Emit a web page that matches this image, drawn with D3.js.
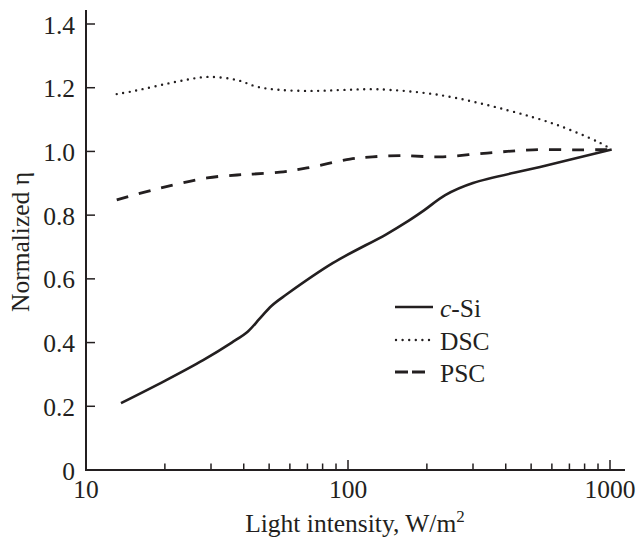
<!DOCTYPE html>
<html><head><meta charset="utf-8">
<script src="https://cdn.jsdelivr.net/npm/d3@7"></script>
<style>
html,body{margin:0;padding:0;background:#fff;}
</style></head>
<body><svg id="c" width="638" height="543"></svg>
<script>
// Data
const cSiX = [13.6, 20, 28, 36, 41.5, 46, 51, 58, 87.7, 140, 170, 195, 235, 300, 541, 1015];
const cSiY = [0.21, 0.28, 0.345, 0.400, 0.435, 0.475, 0.515, 0.550, 0.650, 0.740, 0.782, 0.815, 0.863, 0.901, 0.951, 1.006];
const dscX = [13.1, 14.7, 22.9, 29.2, 37.7, 45, 55, 73.5, 95.7, 130, 224, 404, 628, 916, 1015];
const dscY = [1.18, 1.187, 1.221, 1.234, 1.224, 1.203, 1.193, 1.19, 1.193, 1.195, 1.177, 1.13, 1.083, 1.027, 1.006];
const pscX = [13.1, 19.2, 29, 37.7, 43.4, 55, 69.8, 101.8, 124, 158, 224, 340, 508, 789, 1015];
const pscY = [0.848, 0.885, 0.917, 0.926, 0.929, 0.935, 0.948, 0.976, 0.983, 0.987, 0.983, 0.995, 1.005, 1.005, 1.006];
const seriesNames = ["c-Si", "DSC", "PSC"];
const xMajorTicks = [10, 100, 1000];
const xMinorTicks = [20,30,40,50,60,70,80,90,200,300,400,500,600,700,800,900];
const yTicks = [0, 0.2, 0.4, 0.6, 0.8, 1.0, 1.2, 1.4];
const yTickLabels = ["0", "0.2", "0.4", "0.6", "0.8", "1.0", "1.2", "1.4"];

const ink = "#231f20";
const FF = "Liberation Serif";
const FS = 25.5;
const svg = d3.select("#c");
const x = d3.scaleLog().domain([10, 1000]).range([86, 610]);
const y = d3.scaleLinear().domain([0, 1.4]).range([470, 24]);
const xEnd = 625, yTop = 10;

// axes lines
svg.append("line").attr("x1", x(10)-1).attr("x2", xEnd).attr("y1", y(0)).attr("y2", y(0))
  .attr("stroke", ink).attr("stroke-width", 2);
svg.append("line").attr("x1", x(10)).attr("x2", x(10)).attr("y1", y(0)+1).attr("y2", yTop)
  .attr("stroke", ink).attr("stroke-width", 2);

// x ticks (inward)
svg.selectAll(".xmaj").data(xMajorTicks.filter(d=>d>10)).enter().append("line")
  .attr("x1", d=>x(d)).attr("x2", d=>x(d)).attr("y1", y(0)).attr("y2", y(0)-10)
  .attr("stroke", ink).attr("stroke-width", 1.5);
svg.selectAll(".xmin").data(xMinorTicks).enter().append("line")
  .attr("x1", d=>x(d)).attr("x2", d=>x(d)).attr("y1", y(0)).attr("y2", y(0)-6.5)
  .attr("stroke", ink).attr("stroke-width", 1.5);
svg.selectAll(".xl").data(xMajorTicks).enter().append("text")
  .attr("x", d=>x(d)).attr("y", 498).attr("text-anchor", "middle")
  .attr("font-family", FF).attr("font-size", FS).attr("fill", ink).text(d=>d);

// y ticks
svg.selectAll(".yt").data(yTicks.filter(d=>d>0)).enter().append("line")
  .attr("x1", x(10)).attr("x2", x(10)+9).attr("y1", d=>y(d)).attr("y2", d=>y(d))
  .attr("stroke", ink).attr("stroke-width", 1.5);
svg.selectAll(".yl").data(yTicks).enter().append("text")
  .attr("x", 75).attr("y", d=>y(d)+9.5).attr("text-anchor", "end")
  .attr("font-family", FF).attr("font-size", FS).attr("fill", ink).text((d,i)=>yTickLabels[i]);

// axis titles
svg.append("text").attr("transform", "translate(29,242) rotate(-90)")
  .attr("text-anchor", "middle").attr("font-family", FF).attr("font-size", FS).attr("fill", ink)
  .text("Normalized η");
const xt = svg.append("text").attr("x", 355).attr("y", 532).attr("text-anchor", "middle")
  .attr("font-family", FF).attr("font-size", FS).attr("fill", ink);
xt.append("tspan").text("Light intensity, W/m");
xt.append("tspan").attr("font-size", 17).attr("dy", -10).text("2");

// lines
const line = d3.line().x(d=>x(d[0])).y(d=>y(d[1])).curve(d3.curveCatmullRom.alpha(0.5));
const styles = [
  {dash: null, w: 2.6, cap: "butt"},
  {dash: "0,6.6", w: 2.4, cap: "round"},
  {dash: "12,11", w: 2.8, cap: "butt"}
];
const data = [d3.zip(cSiX, cSiY), d3.zip(dscX, dscY), d3.zip(pscX, pscY)];
data.forEach((d,i)=>{
  svg.append("path").attr("d", line(d)).attr("fill", "none").attr("stroke", ink)
    .attr("stroke-width", styles[i].w).attr("stroke-linecap", styles[i].cap)
    .attr("stroke-dasharray", styles[i].dash);
});

// legend
const legY = [307, 340, 372];
const legDash = [null, "0,6.6", "13,4,13,9"];
seriesNames.forEach((n,i)=>{
  svg.append("line").attr("x1", 395 + (i==1?1:0)).attr("x2", 433).attr("y1", legY[i]).attr("y2", legY[i])
    .attr("stroke", ink).attr("stroke-width", styles[i].w).attr("stroke-linecap", styles[i].cap)
    .attr("stroke-dasharray", legDash[i]);
  const t = svg.append("text").attr("x", 440).attr("y", legY[i]+10)
    .attr("font-family", FF).attr("font-size", FS).attr("fill", ink);
  if (n.startsWith("c-")) {
    t.append("tspan").attr("font-style", "italic").text("c");
    t.append("tspan").text(n.slice(1));
  } else t.text(n);
});
</script></body></html>
